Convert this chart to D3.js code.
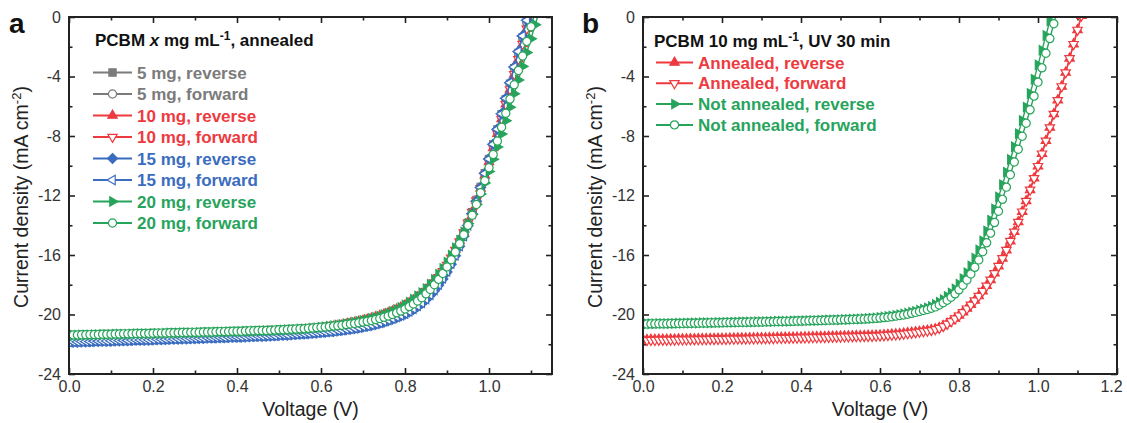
<!DOCTYPE html>
<html><head><meta charset="utf-8">
<script src="https://cdn.jsdelivr.net/npm/d3@7"></script>
<style>body{margin:0;background:#fff}svg{display:block}text{font-family:"Liberation Sans",Arial,Helvetica,sans-serif}</style>
</head><body><svg id="c" width="1127" height="423"></svg>
<script>
// ---------- DATA ----------
const voltage = [0.00,0.01,0.02,0.03,0.04,0.05,0.06,0.07,0.08,0.09,
0.10,0.11,0.12,0.13,0.14,0.15,0.16,0.17,0.18,0.19,
0.20,0.21,0.22,0.23,0.24,0.25,0.26,0.27,0.28,0.29,
0.30,0.31,0.32,0.33,0.34,0.35,0.36,0.37,0.38,0.39,
0.40,0.41,0.42,0.43,0.44,0.45,0.46,0.47,0.48,0.49,
0.50,0.51,0.52,0.53,0.54,0.55,0.56,0.57,0.58,0.59,
0.60,0.61,0.62,0.63,0.64,0.65,0.66,0.67,0.68,0.69,
0.70,0.71,0.72,0.73,0.74,0.75,0.76,0.77,0.78,0.79,
0.80,0.81,0.82,0.83,0.84,0.85,0.86,0.87,0.88,0.89,
0.90,0.91,0.92,0.93,0.94,0.95,0.96,0.97,0.98,0.99,
1.00,1.01,1.02,1.03,1.04,1.05,1.06,1.07,1.08,1.09,
1.10,1.11,1.12];

// Panel a: PCBM x mg mL-1, annealed (current density, mA cm-2)
const j5Rev = [-21.70,-21.69,-21.69,-21.68,-21.67,-21.66,-21.65,-21.65,-21.64,-21.64,
-21.62,-21.61,-21.61,-21.60,-21.59,-21.58,-21.57,-21.57,-21.56,-21.56,
-21.54,-21.53,-21.53,-21.52,-21.51,-21.50,-21.49,-21.48,-21.48,-21.47,
-21.46,-21.45,-21.44,-21.42,-21.42,-21.41,-21.40,-21.39,-21.38,-21.37,
-21.36,-21.35,-21.34,-21.33,-21.32,-21.30,-21.30,-21.28,-21.27,-21.26,
-21.24,-21.22,-21.21,-21.19,-21.17,-21.15,-21.14,-21.11,-21.08,-21.07,
-21.06,-21.03,-20.99,-20.95,-20.91,-20.88,-20.83,-20.78,-20.74,-20.69,
-20.63,-20.57,-20.51,-20.44,-20.36,-20.27,-20.18,-20.08,-19.98,-19.86,
-19.73,-19.58,-19.41,-19.21,-19.01,-18.76,-18.46,-18.14,-17.77,-17.35,
-16.90,-16.38,-15.82,-15.20,-14.55,-13.87,-13.13,-12.30,-11.42,-10.50,
-9.54,-8.56,-7.56,-6.54,-5.52,-4.49,-3.45,-2.41,-1.37,-0.33,
0.71];
const j5Fwd = [-21.67,-21.66,-21.66,-21.65,-21.64,-21.63,-21.62,-21.62,-21.61,-21.61,
-21.59,-21.58,-21.58,-21.57,-21.56,-21.55,-21.54,-21.54,-21.53,-21.53,
-21.51,-21.50,-21.50,-21.49,-21.48,-21.47,-21.46,-21.45,-21.45,-21.44,
-21.43,-21.42,-21.41,-21.39,-21.39,-21.38,-21.37,-21.36,-21.35,-21.34,
-21.33,-21.32,-21.31,-21.30,-21.29,-21.27,-21.27,-21.25,-21.24,-21.23,
-21.21,-21.19,-21.18,-21.16,-21.14,-21.12,-21.11,-21.08,-21.05,-21.04,
-21.03,-21.00,-20.96,-20.92,-20.88,-20.85,-20.80,-20.75,-20.71,-20.66,
-20.60,-20.54,-20.48,-20.41,-20.33,-20.24,-20.15,-20.05,-19.95,-19.83,
-19.70,-19.55,-19.38,-19.18,-18.98,-18.74,-18.45,-18.13,-17.77,-17.35,
-16.90,-16.38,-15.82,-15.20,-14.55,-13.87,-13.13,-12.30,-11.42,-10.50,
-9.54,-8.56,-7.56,-6.54,-5.52,-4.49,-3.45,-2.41,-1.37,-0.33,
0.71];
const j10Rev = [-21.60,-21.59,-21.59,-21.58,-21.58,-21.56,-21.55,-21.55,-21.54,-21.54,
-21.52,-21.51,-21.51,-21.50,-21.50,-21.48,-21.47,-21.47,-21.46,-21.45,
-21.44,-21.43,-21.43,-21.42,-21.41,-21.40,-21.39,-21.38,-21.38,-21.36,
-21.36,-21.35,-21.34,-21.33,-21.32,-21.31,-21.30,-21.29,-21.28,-21.27,
-21.27,-21.25,-21.24,-21.23,-21.22,-21.21,-21.20,-21.19,-21.17,-21.16,
-21.15,-21.13,-21.12,-21.10,-21.08,-21.06,-21.05,-21.02,-21.00,-20.98,
-20.96,-20.92,-20.87,-20.82,-20.77,-20.72,-20.66,-20.60,-20.54,-20.48,
-20.41,-20.34,-20.26,-20.18,-20.09,-19.99,-19.89,-19.78,-19.66,-19.53,
-19.38,-19.22,-19.04,-18.84,-18.62,-18.36,-18.08,-17.77,-17.42,-17.03,
-16.60,-16.13,-15.62,-15.06,-14.46,-13.81,-13.11,-12.34,-11.52,-10.65,
-9.74,-8.80,-7.84,-6.86,-5.87,-4.87,-3.86,-2.84,-1.82,-0.79,
0.24];
const j10Fwd = [-21.63,-21.62,-21.62,-21.61,-21.61,-21.59,-21.58,-21.58,-21.57,-21.57,
-21.55,-21.54,-21.54,-21.53,-21.53,-21.51,-21.50,-21.50,-21.49,-21.48,
-21.47,-21.46,-21.46,-21.45,-21.44,-21.43,-21.42,-21.41,-21.41,-21.39,
-21.39,-21.38,-21.37,-21.36,-21.35,-21.34,-21.33,-21.32,-21.31,-21.30,
-21.30,-21.28,-21.27,-21.26,-21.25,-21.24,-21.23,-21.22,-21.20,-21.19,
-21.18,-21.16,-21.15,-21.13,-21.11,-21.09,-21.08,-21.05,-21.03,-21.01,
-20.99,-20.95,-20.90,-20.85,-20.80,-20.75,-20.69,-20.63,-20.57,-20.51,
-20.46,-20.40,-20.33,-20.25,-20.17,-20.07,-19.97,-19.86,-19.74,-19.61,
-19.46,-19.30,-19.12,-18.92,-18.70,-18.44,-18.16,-17.85,-17.50,-17.10,
-16.67,-16.19,-15.67,-15.10,-14.49,-13.83,-13.12,-12.34,-11.52,-10.65,
-9.74,-8.80,-7.84,-6.86,-5.87,-4.87,-3.86,-2.84,-1.82,-0.79,
0.24];
const j15Rev = [-21.87,-21.86,-21.86,-21.84,-21.84,-21.83,-21.81,-21.81,-21.80,-21.80,
-21.79,-21.77,-21.77,-21.76,-21.76,-21.74,-21.73,-21.73,-21.72,-21.72,
-21.70,-21.69,-21.69,-21.68,-21.66,-21.66,-21.65,-21.64,-21.64,-21.62,
-21.62,-21.61,-21.60,-21.58,-21.58,-21.57,-21.56,-21.56,-21.54,-21.53,
-21.53,-21.52,-21.50,-21.49,-21.48,-21.47,-21.47,-21.45,-21.44,-21.43,
-21.40,-21.39,-21.38,-21.35,-21.34,-21.32,-21.31,-21.28,-21.26,-21.23,
-21.21,-21.19,-21.16,-21.13,-21.09,-21.06,-21.02,-20.98,-20.94,-20.89,
-20.84,-20.79,-20.73,-20.67,-20.59,-20.51,-20.42,-20.32,-20.21,-20.10,
-19.98,-19.83,-19.66,-19.47,-19.26,-19.01,-18.72,-18.40,-18.04,-17.62,
-17.15,-16.62,-16.05,-15.42,-14.74,-14.01,-13.23,-12.38,-11.47,-10.52,
-9.54,-8.55,-7.54,-6.51,-5.47,-4.42,-3.36,-2.32,-1.27,-0.22,
0.84];
const j15Fwd = [-21.85,-21.84,-21.84,-21.82,-21.82,-21.81,-21.79,-21.79,-21.78,-21.78,
-21.77,-21.75,-21.75,-21.74,-21.74,-21.72,-21.71,-21.71,-21.70,-21.70,
-21.68,-21.67,-21.67,-21.66,-21.64,-21.64,-21.63,-21.62,-21.62,-21.60,
-21.60,-21.59,-21.58,-21.56,-21.56,-21.55,-21.54,-21.54,-21.52,-21.51,
-21.51,-21.50,-21.48,-21.47,-21.46,-21.45,-21.45,-21.43,-21.42,-21.41,
-21.38,-21.37,-21.36,-21.33,-21.32,-21.30,-21.29,-21.26,-21.24,-21.21,
-21.19,-21.17,-21.14,-21.11,-21.07,-21.04,-21.00,-20.96,-20.92,-20.87,
-20.81,-20.76,-20.69,-20.63,-20.55,-20.46,-20.37,-20.27,-20.16,-20.05,
-19.93,-19.78,-19.61,-19.42,-19.21,-18.96,-18.67,-18.35,-17.99,-17.57,
-17.10,-16.58,-16.02,-15.40,-14.73,-14.01,-13.23,-12.38,-11.47,-10.52,
-9.54,-8.55,-7.54,-6.51,-5.47,-4.42,-3.36,-2.32,-1.27,-0.22,
0.84];
const j20Rev = [-21.40,-21.39,-21.39,-21.38,-21.38,-21.37,-21.36,-21.36,-21.35,-21.35,
-21.34,-21.33,-21.33,-21.32,-21.32,-21.31,-21.30,-21.30,-21.29,-21.29,
-21.28,-21.27,-21.27,-21.26,-21.25,-21.25,-21.24,-21.23,-21.23,-21.22,
-21.22,-21.21,-21.20,-21.19,-21.19,-21.18,-21.17,-21.17,-21.16,-21.15,
-21.15,-21.14,-21.13,-21.12,-21.11,-21.10,-21.10,-21.09,-21.08,-21.07,
-21.05,-21.04,-21.03,-21.01,-21.00,-20.98,-20.97,-20.95,-20.93,-20.90,
-20.86,-20.83,-20.79,-20.75,-20.71,-20.67,-20.62,-20.57,-20.52,-20.46,
-20.40,-20.34,-20.27,-20.20,-20.12,-20.02,-19.91,-19.79,-19.66,-19.52,
-19.36,-19.18,-18.98,-18.76,-18.53,-18.26,-17.97,-17.65,-17.30,-16.91,
-16.48,-16.02,-15.52,-15.01,-14.46,-13.88,-13.26,-12.60,-11.90,-11.16,
-10.38,-9.57,-8.74,-7.86,-6.97,-6.07,-5.16,-4.24,-3.32,-2.39,
-1.46,-0.52,0.42];
const j20Fwd = [-21.38,-21.37,-21.37,-21.36,-21.36,-21.35,-21.34,-21.34,-21.33,-21.33,
-21.32,-21.31,-21.31,-21.30,-21.30,-21.29,-21.28,-21.28,-21.27,-21.27,
-21.26,-21.25,-21.25,-21.24,-21.23,-21.23,-21.22,-21.21,-21.21,-21.20,
-21.20,-21.19,-21.18,-21.17,-21.17,-21.16,-21.15,-21.15,-21.14,-21.13,
-21.13,-21.12,-21.11,-21.10,-21.09,-21.08,-21.08,-21.07,-21.06,-21.05,
-21.03,-21.02,-21.01,-20.99,-20.98,-20.96,-20.95,-20.93,-20.91,-20.88,
-20.86,-20.84,-20.81,-20.78,-20.75,-20.72,-20.68,-20.64,-20.60,-20.56,
-20.51,-20.46,-20.40,-20.34,-20.27,-20.19,-20.10,-20.00,-19.89,-19.77,
-19.63,-19.47,-19.29,-19.09,-18.87,-18.61,-18.32,-18.00,-17.64,-17.24,
-16.80,-16.32,-15.80,-15.24,-14.64,-14.01,-13.33,-12.60,-11.82,-11.00,
-10.14,-9.25,-8.34,-7.41,-6.47,-5.52,-4.56,-3.59,-2.62,-1.64,
-0.66,0.32];

// Panel b: PCBM 10 mg mL-1, UV 30 min
const jAnnRev = [-21.70,-21.70,-21.69,-21.69,-21.68,-21.68,-21.68,-21.67,-21.67,-21.66,
-21.66,-21.66,-21.65,-21.65,-21.64,-21.64,-21.64,-21.63,-21.63,-21.62,
-21.62,-21.62,-21.61,-21.61,-21.60,-21.60,-21.60,-21.59,-21.59,-21.58,
-21.58,-21.58,-21.57,-21.57,-21.56,-21.56,-21.55,-21.55,-21.54,-21.54,
-21.53,-21.52,-21.52,-21.51,-21.51,-21.50,-21.50,-21.49,-21.48,-21.48,
-21.47,-21.46,-21.46,-21.45,-21.44,-21.44,-21.43,-21.42,-21.42,-21.41,
-21.40,-21.38,-21.36,-21.34,-21.32,-21.30,-21.27,-21.24,-21.21,-21.18,
-21.15,-21.11,-21.08,-21.04,-20.98,-20.89,-20.77,-20.61,-20.44,-20.26,
-20.06,-19.84,-19.60,-19.34,-19.06,-18.76,-18.43,-18.07,-17.67,-17.23,
-16.75,-16.23,-15.67,-15.07,-14.44,-13.78,-13.09,-12.37,-11.62,-10.84,
-10.03,-9.19,-8.32,-7.43,-6.52,-5.60,-4.67,-3.73,-2.78,-1.83,
-0.87,0.09];
const jAnnFwd = [-21.73,-21.73,-21.72,-21.72,-21.71,-21.71,-21.71,-21.70,-21.70,-21.69,
-21.69,-21.69,-21.68,-21.68,-21.67,-21.67,-21.67,-21.66,-21.66,-21.65,
-21.65,-21.65,-21.64,-21.64,-21.63,-21.63,-21.63,-21.62,-21.62,-21.61,
-21.61,-21.61,-21.60,-21.60,-21.59,-21.59,-21.58,-21.58,-21.57,-21.57,
-21.56,-21.55,-21.55,-21.54,-21.54,-21.53,-21.53,-21.52,-21.51,-21.51,
-21.50,-21.49,-21.49,-21.48,-21.47,-21.47,-21.46,-21.45,-21.45,-21.44,
-21.43,-21.41,-21.39,-21.37,-21.35,-21.33,-21.30,-21.27,-21.24,-21.21,
-21.17,-21.13,-21.10,-21.06,-21.00,-20.91,-20.79,-20.63,-20.46,-20.28,
-20.08,-19.86,-19.61,-19.35,-19.07,-18.76,-18.43,-18.07,-17.67,-17.23,
-16.75,-16.23,-15.67,-15.07,-14.44,-13.78,-13.09,-12.37,-11.62,-10.84,
-10.03,-9.19,-8.32,-7.43,-6.52,-5.60,-4.67,-3.73,-2.78,-1.83,
-0.87,0.09];
const jNotRev = [-20.63,-20.63,-20.62,-20.62,-20.61,-20.61,-20.61,-20.60,-20.60,-20.59,
-20.59,-20.58,-20.58,-20.57,-20.57,-20.56,-20.56,-20.55,-20.55,-20.54,
-20.54,-20.53,-20.53,-20.52,-20.52,-20.51,-20.51,-20.50,-20.50,-20.49,
-20.49,-20.48,-20.48,-20.47,-20.46,-20.46,-20.45,-20.45,-20.44,-20.43,
-20.43,-20.42,-20.41,-20.40,-20.40,-20.39,-20.38,-20.37,-20.36,-20.36,
-20.35,-20.34,-20.33,-20.32,-20.31,-20.30,-20.29,-20.27,-20.25,-20.23,
-20.20,-20.17,-20.14,-20.10,-20.06,-20.02,-19.97,-19.91,-19.85,-19.79,
-19.72,-19.65,-19.56,-19.46,-19.33,-19.18,-19.00,-18.79,-18.56,-18.28,
-17.96,-17.60,-17.19,-16.73,-16.22,-15.66,-15.05,-14.39,-13.67,-12.90,
-12.10,-11.27,-10.43,-9.58,-8.72,-7.84,-6.96,-6.06,-5.14,-4.19,
-3.22,-2.24,-1.25,-0.25,0.75];
const jNotFwd = [-20.64,-20.64,-20.63,-20.63,-20.62,-20.62,-20.62,-20.61,-20.61,-20.60,
-20.60,-20.59,-20.59,-20.58,-20.58,-20.57,-20.57,-20.56,-20.56,-20.55,
-20.55,-20.54,-20.54,-20.53,-20.53,-20.52,-20.52,-20.51,-20.51,-20.50,
-20.50,-20.49,-20.49,-20.48,-20.47,-20.47,-20.46,-20.46,-20.45,-20.44,
-20.44,-20.43,-20.42,-20.41,-20.41,-20.40,-20.39,-20.38,-20.37,-20.37,
-20.36,-20.35,-20.34,-20.33,-20.32,-20.31,-20.30,-20.29,-20.27,-20.26,
-20.24,-20.21,-20.18,-20.15,-20.11,-20.07,-20.03,-19.98,-19.92,-19.86,
-19.80,-19.73,-19.66,-19.58,-19.49,-19.36,-19.21,-19.04,-18.84,-18.61,
-18.34,-18.03,-17.68,-17.28,-16.83,-16.33,-15.78,-15.18,-14.53,-13.82,
-13.06,-12.26,-11.44,-10.60,-9.75,-8.89,-8.02,-7.14,-6.24,-5.32,
-4.38,-3.42,-2.44,-1.45,-0.45,0.55];

const labelsA = ["5 mg, reverse","5 mg, forward","10 mg, reverse","10 mg, forward",
                 "15 mg, reverse","15 mg, forward","20 mg, reverse","20 mg, forward"];
const labelsB = ["Annealed, reverse","Annealed, forward","Not annealed, reverse","Not annealed, forward"];
const xTickLabelsA = [0.0,0.2,0.4,0.6,0.8,1.0];
const xMinorA = [0.1,0.3,0.5,0.7,0.9,1.1];
const xTickLabelsB = [0.0,0.2,0.4,0.6,0.8,1.0,1.2];
const xMinorB = [0.1,0.3,0.5,0.7,0.9,1.1];
const yTickLabels = [-24,-20,-16,-12,-8,-4,0];
const yMinor = [-22,-18,-14,-10,-6,-2];

// ---------- STYLE ----------
const C = {gray:"#7b7b7b", red:"#ee3a3f", blue:"#3a6cbf", green:"#27a45c"};
const seriesA = [
  {j:j5Rev,  c:C.gray,  s:"square",  f:true,  l:labelsA[0]},
  {j:j5Fwd,  c:C.gray,  s:"circle",  f:false, l:labelsA[1]},
  {j:j10Rev, c:C.red,   s:"up",      f:true,  l:labelsA[2]},
  {j:j10Fwd, c:C.red,   s:"down",    f:false, l:labelsA[3]},
  {j:j15Rev, c:C.blue,  s:"diamond", f:true,  l:labelsA[4]},
  {j:j15Fwd, c:C.blue,  s:"left",    f:false, l:labelsA[5]},
  {j:j20Rev, c:C.green, s:"right",   f:true,  l:labelsA[6]},
  {j:j20Fwd, c:C.green, s:"circle",  f:false, l:labelsA[7]}
];
const seriesB = [
  {j:jAnnRev, c:C.red,   s:"up",     f:true,  l:labelsB[0]},
  {j:jAnnFwd, c:C.red,   s:"down",   f:false, l:labelsB[1]},
  {j:jNotRev, c:C.green, s:"right",  f:true,  l:labelsB[2]},
  {j:jNotFwd, c:C.green, s:"circle", f:false, l:labelsB[3]}
];

const SYM = {
  square:"M-3.6,-3.6H3.6V3.6H-3.6Z",
  circle:"M4.1,0A4.1,4.1 0 1,1 -4.1,0A4.1,4.1 0 1,1 4.1,0Z",
  up:"M0,-5.4L4.68,2.7L-4.68,2.7Z",
  down:"M0,5.4L4.68,-2.7L-4.68,-2.7Z",
  left:"M-5.4,0L2.7,-4.68L2.7,4.68Z",
  right:"M5.4,0L-2.7,-4.68L-2.7,4.68Z",
  diamond:"M0,-5L5,0L0,5L-5,0Z"
};

const svg = d3.select("#c");
const AX = "#222";

function panel(opt){
  const x = d3.scaleLinear().domain(opt.xd).range([opt.x0, opt.x1]);
  const y = d3.scaleLinear().domain([-24,0]).range([374,17]);
  const g = svg.append("g");
  const cid = "clip"+opt.id;
  svg.append("clipPath").attr("id",cid).append("rect")
     .attr("x",opt.x0).attr("y",17).attr("width",opt.x1-opt.x0).attr("height",357);

  // axes (ticks inward, mirrored)
  g.append("g").attr("transform","translate(0,374)")
    .call(d3.axisBottom(x).tickValues(opt.xt).tickFormat(d=>d.toFixed(1)).tickSizeInner(-6).tickSizeOuter(0).tickPadding(7));
  g.append("g").attr("transform","translate(0,374)")
    .call(d3.axisBottom(x).tickValues(opt.xm).tickFormat("").tickSizeInner(-3.5).tickSizeOuter(0));
  g.append("g").attr("transform","translate(0,17)")
    .call(d3.axisTop(x).tickValues(opt.xt).tickFormat("").tickSizeInner(-6).tickSizeOuter(0));
  g.append("g").attr("transform","translate(0,17)")
    .call(d3.axisTop(x).tickValues(opt.xm).tickFormat("").tickSizeInner(-3.5).tickSizeOuter(0));
  g.append("g").attr("transform",`translate(${opt.x0},0)`)
    .call(d3.axisLeft(y).tickValues(yTickLabels).tickFormat(d=>String(d)).tickSizeInner(-6).tickSizeOuter(0).tickPadding(8));
  g.append("g").attr("transform",`translate(${opt.x0},0)`)
    .call(d3.axisLeft(y).tickValues(yMinor).tickFormat("").tickSizeInner(-3.5).tickSizeOuter(0));
  g.append("g").attr("transform",`translate(${opt.x1},0)`)
    .call(d3.axisRight(y).tickValues(yTickLabels).tickFormat("").tickSizeInner(-6).tickSizeOuter(0));
  g.append("g").attr("transform",`translate(${opt.x1},0)`)
    .call(d3.axisRight(y).tickValues(yMinor).tickFormat("").tickSizeInner(-3.5).tickSizeOuter(0));
  g.selectAll(".domain").remove();
  g.selectAll(".tick line").attr("stroke",AX).attr("stroke-width",1.6);
  g.selectAll(".tick text").attr("font-size",16).attr("fill","#333")
    .attr("font-family",'"Liberation Sans",Arial,sans-serif');
  // keep the last x label inside the page edge
  if (opt.lastShift) g.selectAll(".tick text").filter(d=>d===1.2).attr("dx",opt.lastShift);

  // data
  const dg = svg.append("g").attr("clip-path",`url(#${cid})`);
  const line = d3.line().x(d=>x(d[0])).y(d=>y(d[1]));
  opt.series.forEach(s=>{
    const pts = s.j.map((v,i)=>[voltage[i], v]);
    const sg = dg.append("g");
    sg.append("path").datum(pts).attr("d",line).attr("fill","none")
      .attr("stroke",s.c).attr("stroke-width",1.4);
    sg.selectAll("path.m").data(pts).join("path").attr("class","m")
      .attr("transform",d=>`translate(${x(d[0])},${y(d[1])})`)
      .attr("d",SYM[s.s]).attr("fill",s.f?s.c:"#fff")
      .attr("stroke",s.c).attr("stroke-width",1.2);
  });

  // frame
  svg.append("rect").attr("x",opt.x0).attr("y",17).attr("width",opt.x1-opt.x0).attr("height",357)
     .attr("fill","none").attr("stroke",AX).attr("stroke-width",2);

  // axis titles
  svg.append("text").attr("x",(opt.x0+opt.x1)/2).attr("y",416).attr("text-anchor","middle")
     .attr("font-size",19.5).attr("fill","#222").text("Voltage (V)");
  const yt = svg.append("text").attr("transform",`translate(${opt.x0-41},197) rotate(-90)`)
     .attr("text-anchor","middle").attr("font-size",19.5).attr("fill","#222");
  yt.append("tspan").text("Current density (mA cm");
  yt.append("tspan").attr("dy",-7).attr("font-size",13).text("-2");
  yt.append("tspan").attr("dy",7).text(")");

  // panel letter
  svg.append("text").attr("x",opt.lx).attr("y",33).attr("font-size",28).attr("font-weight","bold")
     .attr("fill","#111").text(opt.letter);

  // legend
  const lg = svg.append("g").attr("font-weight","bold").attr("font-size",17);
  const tt = lg.append("text").attr("x",opt.leg.tx).attr("y",opt.leg.ty).attr("fill","#111");
  opt.leg.title(tt);
  opt.series.forEach((s,i)=>{
    const cy = opt.leg.y0 + i*opt.leg.dy;
    lg.append("line").attr("x1",opt.leg.l0).attr("x2",opt.leg.l1).attr("y1",cy).attr("y2",cy)
      .attr("stroke",s.c).attr("stroke-width",2);
    lg.append("path").attr("transform",`translate(${(opt.leg.l0+opt.leg.l1)/2},${cy})`)
      .attr("d",SYM[s.s]).attr("fill",s.f?s.c:"#fff").attr("stroke",s.c).attr("stroke-width",1.2);
    lg.append("text").attr("x",opt.leg.l1+5).attr("y",cy+6).attr("fill",s.c).text(s.l);
  });
}

panel({id:"a", xd:[0,1.15], x0:69, x1:552, xt:xTickLabelsA, xm:xMinorA, series:seriesA, letter:"a", lx:9,
  leg:{tx:95, ty:46, y0:72.5, dy:21.5, l0:93, l1:132,
    title:t=>{ t.append("tspan").text("PCBM ");
               t.append("tspan").attr("font-style","italic").text("x");
               t.append("tspan").text(" mg mL");
               t.append("tspan").attr("dy",-6).attr("font-size",12).text("-1");
               t.append("tspan").attr("dy",6).text(", annealed"); }}});
panel({id:"b", xd:[0,1.2], x0:643, x1:1117, xt:xTickLabelsB, xm:xMinorB, series:seriesB, letter:"b", lx:582,
  lastShift:-6,
  leg:{tx:654, ty:47, y0:62.5, dy:20.8, l0:656, l1:693,
    title:t=>{ t.append("tspan").text("PCBM 10 mg mL");
               t.append("tspan").attr("dy",-6).attr("font-size",12).text("-1");
               t.append("tspan").attr("dy",6).text(", UV 30 min"); }}});
</script></body></html>
